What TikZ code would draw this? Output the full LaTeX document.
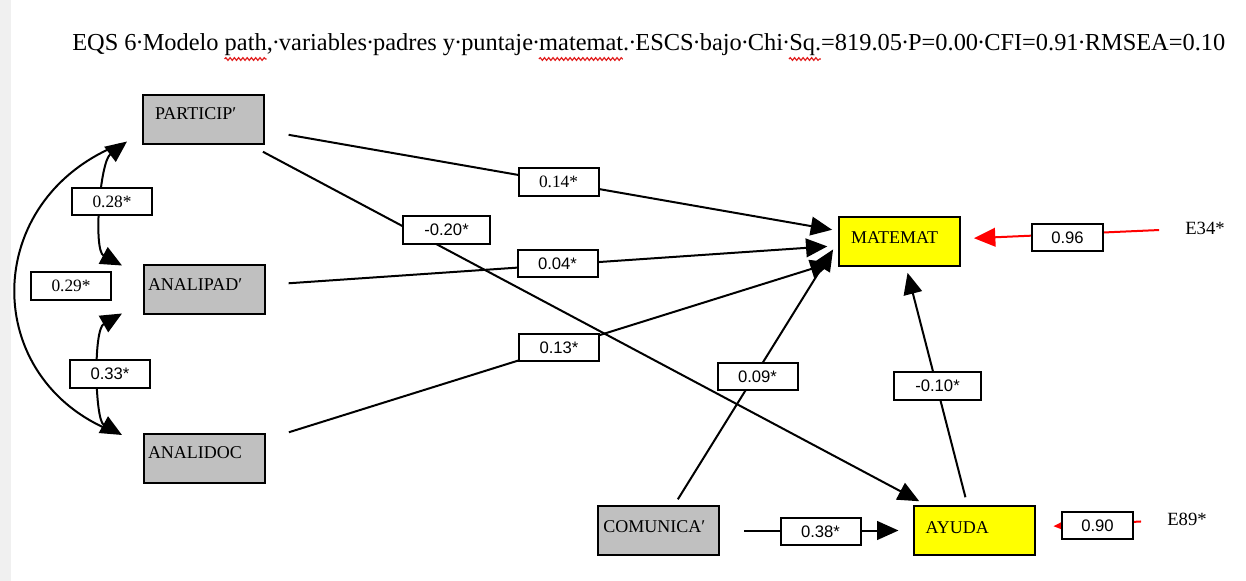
\documentclass[tikz,border=0pt]{standalone}
\usepackage{fontspec}
\setmainfont{Liberation Serif}
\newfontfamily\coefsansfont{Liberation Sans}
\usetikzlibrary{arrows.meta,positioning,decorations.pathmorphing}
\definecolor{boxgray}{RGB}{192,192,192}
\definecolor{boxyellow}{RGB}{255,255,0}
\definecolor{pagestrip}{RGB}{240,240,240}
\definecolor{spellred}{RGB}{225,30,30}
\def\Ttl{\fontsize{18.3}{21}\selectfont}
\newcommand\sdot{\makebox[0.25em][c]{·}}% Word's visible space mark
% offsets and widths of the words marked by the spell checker
\newlength\sqxa \newlength\sqwa
\newlength\sqxb \newlength\sqwb
\newlength\sqxc \newlength\sqwc
\AtBeginDocument{%
  \settowidth\sqxa{\Ttl EQS 6\sdot Modelo }%
  \settowidth\sqwa{\Ttl path}%
  \settowidth\sqxb{\Ttl EQS 6\sdot Modelo path,\sdot variables\sdot padres y\sdot puntaje\sdot }%
  \settowidth\sqwb{\Ttl matemat}%
  \settowidth\sqxc{\Ttl EQS 6\sdot Modelo path,\sdot variables\sdot padres y\sdot puntaje\sdot matemat.\sdot ESCS\sdot bajo\sdot Chi\sdot }%
  \settowidth\sqwc{\Ttl Sq.}}
\newcommand\spellmark[2]{%
  \draw[spell] ([xshift=#1,yshift=-6pt]title.base west) -- ++(#2,0pt);}

\begin{document}
\begin{tikzpicture}[% styles for the whole diagram
    x=0.75pt, y=-0.75pt,   % one unit = one pixel of the page, y downwards
    every node/.style={font=\fontsize{13.5}{16}\selectfont},
    varbox/.style={rectangle, draw=black, line width=1.5pt, fill=boxgray,
      minimum width=90.75pt, minimum height=36.75pt, text width=84.75pt,
      align=left, inner xsep=3pt, inner ysep=0pt},
    depbox/.style={varbox, fill=boxyellow},
    coef/.style={rectangle, draw=black, line width=1.5pt, fill=white,
      minimum width=60pt, minimum height=20.5pt, inner sep=0pt,
      font=\fontsize{13}{15}\selectfont},
    coefsans/.style={coef, font=\coefsansfont\fontsize{12.5}{15}\selectfont},
    errlabel/.style={inner sep=0pt, font=\fontsize{14}{16}\selectfont},
    link/.style={line width=1.5pt, -{Triangle[length=16pt,width=14pt]}},
    errlink/.style={link, color=red},
    covlink/.style={line width=1.5pt,
      {Triangle[length=16pt,width=14pt]}-{Triangle[length=16pt,width=14pt]}},
    spell/.style={draw=spellred, line width=0.9pt, decorate,
      decoration={snake, amplitude=1pt, segment length=3.2pt}}
  ]
  \useasboundingbox (0,0) rectangle (1246,581);
  \fill[pagestrip] (0,0) rectangle (11,581);

  % title
  \node[anchor=base west, inner sep=0pt, font=\Ttl] (title) at (72,51)
    {EQS 6\sdot Modelo path,\sdot variables\sdot padres y\sdot puntaje\sdot matemat.\sdot ESCS\sdot bajo\sdot Chi\sdot Sq.=819.05\sdot P=0.00\sdot CFI=0.91\sdot RMSEA=0.10};
  \spellmark{\sqxa}{\sqwa}
  \spellmark{\sqxb}{\sqwb}
  \spellmark{\sqxc}{\sqwc}

  % variables
  \node[varbox] (particip) at (203.5,120) {\raisebox{10pt}{\hspace*{6pt}PARTICIP′}};
  \node[varbox] (analipad) at (204.5,289) {\raisebox{6pt}{ANALIPAD′}};
  \node[varbox] (analidoc) at (204.5,458.5) {\raisebox{9pt}{ANALIDOC}};
  \node[depbox] (matemat) at (899.5,241.5) {\raisebox{6pt}{\hspace*{6pt}MATEMAT}};
  \node[varbox] (comunica) at (658.5,530.5) {\raisebox{6pt}{\hspace*{1pt}COMUNICA′}};
  \node[depbox] (ayuda) at (974,530.5) {\raisebox{5pt}{\hspace*{6pt}AYUDA}};
  \node[errlabel, anchor=west] (e34) at (1185,228) {E34*};
  \node[errlabel, anchor=west] (e89) at (1167,519) {E89*};

  % paths
  \path[link]
    (particip) edge[shorten <=18pt, shorten >=4.5pt] (matemat)
    (particip) edge[shorten <=10pt, shorten >=6pt] (ayuda)
    (analipad) edge[shorten <=17pt, shorten >=8pt] (matemat)
    (analidoc) edge[shorten <=18pt, shorten >=5pt] (matemat)
    (comunica) edge[shorten <=5pt, shorten >=7pt] (matemat.west)
    (ayuda) edge[shorten <=6pt, shorten >=4.5pt] (matemat)
    (comunica) edge[shorten <=18pt, shorten >=10.5pt] (ayuda)
    ;
  \path[errlink]
    (e34) edge[shorten <=19.5pt, shorten >=9.75pt] (matemat)
    (e89) edge[shorten <=19.5pt, shorten >=13.5pt] (ayuda)
    ;

  % covariances
  \coordinate (cv-p) at ([shift={(-15,-4)}]particip.south west);
  \coordinate (cv-a1) at ([shift={(-21,2)}]analipad.north west);
  \coordinate (cv-a2) at ([shift={(-21,-1)}]analipad.south west);
  \coordinate (cv-d) at ([shift={(-21,2)}]analidoc.north west);
  \draw[covlink] (cv-p) .. controls (100,162) and (93,250) .. (cv-a1);
  \draw[covlink] (cv-a2) .. controls (93,330) and (95,420) .. (cv-d);
  \draw[line width=1.5pt, shorten <=6pt, shorten >=6pt]
    (cv-p) .. controls (-20,200) and (-20,380) .. (cv-d);

  % coefficients
  \node[coef] (c028) at (112,201.5) {0.28*};
  \node[coef] (c029) at (71,286) {0.29*};
  \node[coefsans] (c033) at (110,374) {0.33*};
  \node[coef] (c014) at (558.5,182) {0.14*};
  \node[coefsans, minimum width=65pt] (c020) at (446.5,230) {-0.20*};
  \node[coefsans] (c004) at (557.5,263.5) {0.04*};
  \node[coefsans] (c013) at (559,347.5) {0.13*};
  \node[coefsans] (c009) at (757.5,376.5) {0.09*};
  \node[coefsans, minimum width=65pt] (c010) at (937.5,386) {-0.10*};
  \node[coefsans] (c038) at (820.5,531.5) {0.38*};
  \node[coefsans, minimum width=53pt] (c096) at (1067.5,237.5) {0.96};
  \node[coefsans, minimum width=53pt] (c090) at (1097.5,525.5) {0.90};
\end{tikzpicture}
\end{document}
